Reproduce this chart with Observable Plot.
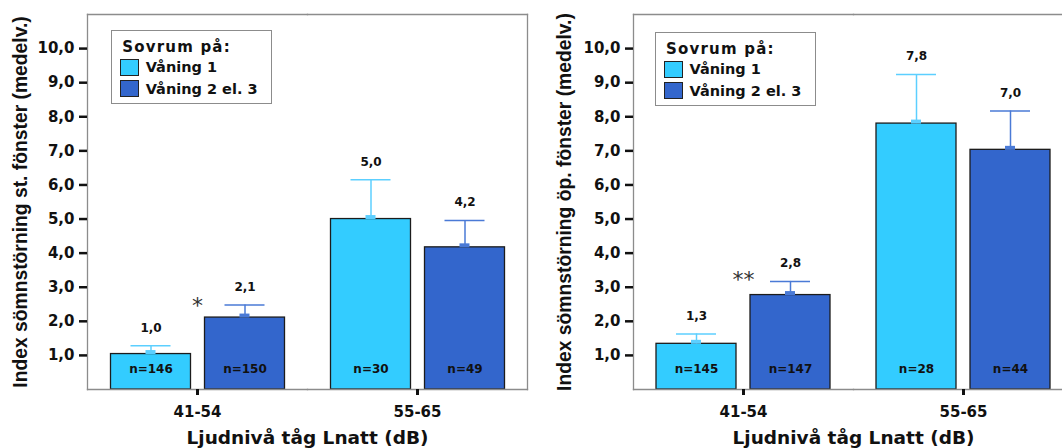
<!DOCTYPE html>
<html>
<head>
<meta charset="utf-8">
<script src="https://cdn.jsdelivr.net/npm/d3@7"></script>
<script src="https://cdn.jsdelivr.net/npm/@observablehq/plot@0.6"></script>
<style>
html, body { margin: 0; padding: 0; background: #fff; overflow: hidden; }
#wrap { display: flex; width: 1062px; height: 448px; overflow: hidden; }
.panel { position: relative; width: 531px; height: 448px; overflow: hidden; flex: none; }
.panel svg { display: block; max-width: none !important; }
.legend { position: absolute; box-sizing: border-box; width: 161px; height: 74px; border: 1.5px solid #8c8c8c; background: #fff;
  font-family: "DejaVu Sans", sans-serif; font-weight: bold; color: #111; }
.legend .title { position: absolute; left: 10.5px; top: 6px; font-size: 15px; letter-spacing: 1.2px; line-height: 20px; white-space: nowrap; }
.legend .sw { position: absolute; left: 8.5px; width: 19px; height: 17px; box-sizing: border-box; border: 1.5px solid #222; }
.legend .lab { position: absolute; left: 34px; font-size: 14.5px; line-height: 18px; white-space: nowrap; }
</style>
</head>
<body>
<div id="wrap">
  <div class="panel" id="p1"></div>
  <div class="panel" id="p2"></div>
</div>
<script>
// ---- data ----
const cats = ["41-54", "55-65"];
const floors = ["Våning 1", "Våning 2 el. 3"];
const legendTitle = "Sovrum på:";
const xTitle = "Ljudnivå tåg Lnatt (dB)";
const yTicks = [1, 2, 3, 4, 5, 6, 7, 8, 9, 10];

// order: 41-54 Våning 1, 41-54 Våning 2 el. 3, 55-65 Våning 1, 55-65 Våning 2 el. 3
const stMean  = [1.04, 2.11, 5.00, 4.17];
const stUpper = [1.28, 2.48, 6.15, 4.96];
const stN     = [146, 150, 30, 49];
const stTitle = "Index sömnstörning st. fönster (medelv.)";
const stSig   = "*";
const stSigY  = 2.45;

const opMean  = [1.34, 2.77, 7.80, 7.03];
const opUpper = [1.63, 3.17, 9.24, 8.17];
const opN     = [145, 147, 28, 44];
const opTitle = "Index sömnstörning öp. fönster (medelv.)";
const opSig   = "**";
const opSigY  = 3.22;

// ---- style ----
const barColors = ["#33CCFF", "#3366CC"];
const errColors = ["#5CCFFF", "#4A7AD6"];
const frameColor = "#8c8c8c";
const font = "DejaVu Sans";

const fmt = v => (Math.round(v * 10) / 10).toFixed(1).replace(".", ",");

function makeChart(cfg) {
  const rows = [];
  cats.forEach((c, ci) => floors.forEach((f, fi) => {
    const k = ci * 2 + fi;
    rows.push({cat: c, floor: f, fi, mean: cfg.mean[k], upper: cfg.upper[k], n: cfg.n[k]});
  }));
  const marks = [];
  floors.forEach((f, fi) => {
    const d = rows.filter(r => r.fi === fi);
    marks.push(Plot.barY(d, {fx: "cat", x: "floor", y: "mean", fill: barColors[fi], stroke: "#1c1c1c", strokeWidth: 1.3}));
    marks.push(Plot.ruleX(d, {fx: "cat", x: "floor", y1: "mean", y2: "upper", stroke: errColors[fi], strokeWidth: 1.5}));
    marks.push(Plot.tickY(d, {fx: "cat", x: "floor", y: "upper", stroke: errColors[fi], strokeWidth: 1.5, insetLeft: 20, insetRight: 20}));
    marks.push(Plot.tickY(d, {fx: "cat", x: "floor", y: "mean", stroke: errColors[fi], strokeWidth: 4, insetLeft: 35, insetRight: 35, dy: -2}));
  });
  marks.push(Plot.text(rows, {fx: "cat", x: "floor", y: "upper", text: r => fmt(r.mean), dy: -18,
    fontSize: 12, fontWeight: "bold", fill: "#111", fontFamily: font}));
  marks.push(Plot.text(rows, {fx: "cat", x: "floor", frameAnchor: "bottom", text: r => "n=" + r.n, dy: -17,
    fontSize: 12, fontWeight: "bold", fill: "#111", fontFamily: font}));
  marks.push(Plot.text([{cat: cats[0], y: cfg.sigY, mark: cfg.sig}], {fx: "cat", y: "y", text: "mark",
    fontSize: 22, fill: "#333", fontFamily: font}));
  marks.push(Plot.frame({anchor: "top", stroke: frameColor, strokeWidth: 1.3}));
  marks.push(Plot.frame({anchor: "bottom", stroke: frameColor, strokeWidth: 1.3}));
  marks.push(Plot.frame({anchor: "left", facetAnchor: "left", stroke: frameColor, strokeWidth: 1.3}));
  marks.push(Plot.frame({anchor: "right", facetAnchor: "right", stroke: frameColor, strokeWidth: 1.3}));
  marks.push(Plot.axisY({ticks: yTicks, tickFormat: fmt, tickSize: 8, tickPadding: 5, strokeWidth: 2.5, stroke: "#111",
    fontSize: 15, fontWeight: "bold", fill: "#111", fontFamily: font, label: null, labelArrow: false}));
  marks.push(Plot.axisY({ticks: yTicks, tickFormat: () => "", tickSize: 0, label: cfg.yTitle, labelAnchor: "center",
    labelArrow: false, labelOffset: cfg.labelOffset, dy: cfg.titleDy, fontSize: 19.3, fontWeight: "bold",
    fontFamily: "Liberation Sans", fill: "#111"}));
  marks.push(Plot.axisFx({anchor: "bottom", tickSize: 6, strokeWidth: 3, stroke: "#111", tickPadding: 11,
    fontSize: 15, fontWeight: "bold", fontFamily: font, fill: "#111", label: null, labelArrow: false}));
  marks.push(Plot.axisFx({anchor: "bottom", tickSize: 0, tickFormat: () => "", label: xTitle, labelAnchor: "center",
    labelArrow: false, labelOffset: 54.5, fontSize: 18.5, fontWeight: "bold", fontFamily: font, fill: "#111"}));

  const svg = Plot.plot({
    width: cfg.width, height: 448,
    marginLeft: cfg.marginLeft, marginRight: cfg.marginRight, marginTop: 14, marginBottom: 59,
    style: {fontFamily: font, background: "#fff", maxWidth: "none"},
    fx: {domain: cats, padding: 0, label: null},
    x: {domain: floors, paddingInner: 0.149, paddingOuter: 0.24, axis: null, label: null},
    y: {domain: [0, 11], label: null},
    marks
  });
  svg.style.maxWidth = "none";
  svg.style.width = cfg.width + "px";
  svg.style.height = "448px";
  const host = document.getElementById(cfg.host);
  host.appendChild(svg);

  const lg = document.createElement("div");
  lg.className = "legend";
  lg.style.left = cfg.legendLeft + "px";
  lg.style.top = cfg.legendTop + "px";
  const t = document.createElement("div");
  t.className = "title"; t.textContent = legendTitle; lg.appendChild(t);
  floors.forEach((f, i) => {
    const sw = document.createElement("div");
    sw.className = "sw"; sw.style.top = (27.5 + i * 21.7) + "px"; sw.style.background = barColors[i];
    lg.appendChild(sw);
    const lab = document.createElement("div");
    lab.className = "lab"; lab.style.top = (26.5 + i * 22) + "px"; lab.textContent = f;
    lg.appendChild(lab);
  });
  host.appendChild(lg);
}

makeChart({host: "p1", mean: stMean, upper: stUpper, n: stN, yTitle: stTitle, sig: stSig, sigY: stSigY,
  width: 531, marginLeft: 86.5, marginRight: 4.5, labelOffset: 74.5, titleDy: 6, legendLeft: 110.7, legendTop: 30});
makeChart({host: "p2", mean: opMean, upper: opUpper, n: opN, yTitle: opTitle, sig: opSig, sigY: opSigY,
  width: 545, marginLeft: 102, marginRight: 3, labelOffset: 76.5, titleDy: 4, legendLeft: 123.5, legendTop: 32.3});
</script>
</body>
</html>
